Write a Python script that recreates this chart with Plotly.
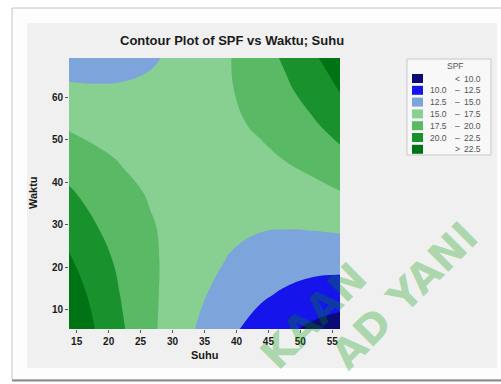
import plotly.graph_objects as go

# Response surface of SPF over the Suhu x Waktu design region (grid readings)
suhu = [13.8, 18.0, 22.2, 26.5, 30.8, 35.0, 39.2, 43.5, 47.8, 52.0, 56.2]
waktu = [5.5, 13.5, 21.5, 29.5, 37.5, 45.5, 53.5, 61.5, 69.2]
spf = [
    [24.9, 22.4, 20.2, 18.0, 16.1, 14.4, 12.9, 11.6, 10.4, 9.5, 8.8],
    [23.9, 21.8, 19.8, 18.0, 16.4, 15.1, 13.9, 12.9, 12.1, 11.5, 11.2],
    [22.8, 21.0, 19.4, 17.9, 16.7, 15.6, 14.8, 14.1, 13.7, 13.4, 13.4],
    [21.6, 20.1, 18.8, 17.7, 16.8, 16.0, 15.5, 15.2, 15.1, 15.2, 15.4],
    [20.3, 19.1, 18.1, 17.3, 16.7, 16.4, 16.2, 16.2, 16.4, 16.8, 17.4],
    [18.8, 18.0, 17.3, 16.9, 16.6, 16.5, 16.7, 17.0, 17.6, 18.3, 19.3],
    [17.2, 16.7, 16.4, 16.3, 16.3, 16.6, 17.1, 17.8, 18.7, 19.7, 21.0],
    [15.5, 15.3, 15.3, 15.5, 16.0, 16.6, 17.4, 18.4, 19.6, 21.0, 22.6],
    [13.7, 13.9, 14.2, 14.7, 15.5, 16.4, 17.5, 18.9, 20.4, 22.1, 24.0],
]

levels = [10.0, 12.5, 15.0, 17.5, 20.0, 22.5]
band_colors = ["#0b0b78", "#1515eb", "#7da5dc", "#87d091", "#5ab964", "#19912d", "#007314"]
x_ticks = [15, 20, 25, 30, 35, 40, 45, 50, 55]
y_ticks = [10, 20, 30, 40, 50, 60]

# pixel -> paper helpers (plot area spans 69..340 px across, 58..329 px down)
L, R, T, B = 69, 340, 58, 329
W, H = R - L, B - T


def px(x):
    return (x - L) / W


def py(y):
    return (B - y) / H


# stepped colorscale so every band lands on one flat colour
edges = [0, 0.125, 0.2917, 0.4583, 0.625, 0.7917, 0.9583, 1.0]
colorscale = []
for i, c in enumerate(band_colors):
    colorscale.append([edges[i], c])
    colorscale.append([edges[i + 1], c])

step = levels[1] - levels[0]
fig = go.Figure(
    go.Contour(
        x=suhu,
        y=waktu,
        z=spf,
        autocontour=False,
        contours=dict(start=levels[0], end=levels[-1], size=step,
                      coloring="fill", showlines=False),
        colorscale=colorscale,
        showscale=False,
        line=dict(width=0, smoothing=1.3),
        hoverinfo="skip",
    )
)

shapes = []
annotations = []

# outer frame and grey panel
shapes.append(dict(type="rect", xref="paper", yref="paper", layer="below",
                   x0=px(12), x1=px(520), y0=py(8), y1=py(380),
                   line=dict(color="#c4c4c4", width=1), fillcolor="#fdfdfd"))
shapes.append(dict(type="line", xref="paper", yref="paper", layer="below",
                   x0=px(12), x1=px(520), y0=py(380.5), y1=py(380.5),
                   line=dict(color="#8a8a8a", width=2)))
shapes.append(dict(type="rect", xref="paper", yref="paper", layer="below",
                   x0=px(27), x1=px(497), y0=py(23), y1=py(368),
                   line=dict(width=0), fillcolor="#f0f0f0"))

# legend box
shapes.append(dict(type="rect", xref="paper", yref="paper", layer="above",
                   x0=px(407), x1=px(491), y0=py(59), y1=py(155),
                   line=dict(color="#c8c8c8", width=1), fillcolor="#f8f8f8"))
annotations.append(dict(text="SPF", xref="paper", yref="paper", x=px(455), y=py(66),
                        showarrow=False, xanchor="center", yanchor="middle",
                        font=dict(family="Arial", size=8.5, color="#555555")))

leg_font = dict(family="Arial", size=8.5, color="#555555")
for i, c in enumerate(band_colors):
    yc = 78.5 + i * 11.8
    shapes.append(dict(type="rect", xref="paper", yref="paper", layer="above",
                       x0=px(412), x1=px(423), y0=py(yc - 4.5), y1=py(yc + 4.5),
                       line=dict(width=0), fillcolor=c))
    if i == 0:
        parts = [("<", 457), (f"{levels[0]:.1f}", 483)]
    elif i == len(band_colors) - 1:
        parts = [(">", 457), (f"{levels[-1]:.1f}", 483)]
    else:
        parts = [(f"{levels[i - 1]:.1f}", 449), ("\u2013", 457), (f"{levels[i]:.1f}", 483)]
    for txt, xp in parts:
        anchor = "center" if txt in ("<", ">", "\u2013") else "right"
        annotations.append(dict(text=txt, xref="paper", yref="paper", x=px(xp), y=py(yc),
                                showarrow=False, xanchor=anchor, yanchor="middle",
                                font=leg_font))

# titles
annotations.append(dict(text="<b>Contour Plot of SPF vs Waktu; Suhu</b>", xref="paper", yref="paper",
                        x=px(232), y=py(40), showarrow=False, xanchor="center", yanchor="middle",
                        font=dict(family="Arial", size=13, color="#1a1a1a")))
annotations.append(dict(text="<b>Suhu</b>", xref="paper", yref="paper",
                        x=px(205), y=py(355), showarrow=False, xanchor="center", yanchor="middle",
                        font=dict(family="Arial", size=11, color="#1a1a1a")))
annotations.append(dict(text="<b>Waktu</b>", xref="paper", yref="paper", textangle=-90,
                        x=px(33), y=py(193), showarrow=False, xanchor="center", yanchor="middle",
                        font=dict(family="Arial", size=11, color="#1a1a1a")))

# library watermark (translucent, darkens whatever lies under it)
wm_font = dict(family="DejaVu Sans", size=41, color="rgba(0,150,0,0.3)", weight="bold")
annotations.append(dict(text="KAAN", xref="paper", yref="paper", textangle=-45,
                        x=px(314), y=py(316), showarrow=False, xanchor="center", yanchor="middle",
                        font=wm_font))
annotations.append(dict(text="AD YANI", xref="paper", yref="paper", textangle=-45,
                        x=px(404), y=py(296), showarrow=False, xanchor="center", yanchor="middle",
                        font=wm_font))

tick_font = dict(family="Arial", size=10, color="#1a1a1a", weight="bold")
fig.update_layout(
    width=501,
    height=384,
    margin=dict(l=L, r=501 - R, t=T, b=384 - B, pad=0),
    paper_bgcolor="#ffffff",
    plot_bgcolor="#f0f0f0",
    showlegend=False,
    shapes=shapes,
    annotations=annotations,
    xaxis=dict(range=[suhu[0], suhu[-1]], tickvals=x_ticks, ticks="outside", ticklen=3,
               tickcolor="#555555", showgrid=False, zeroline=False, showline=False,
               tickfont=tick_font, fixedrange=True),
    yaxis=dict(range=[waktu[0], waktu[-1]], tickvals=y_ticks, ticks="outside", ticklen=3,
               tickcolor="#555555", showgrid=False, zeroline=False, showline=False,
               tickfont=tick_font, fixedrange=True),
)

fig.write_html("out.html", config={"displayModeBar": False})
